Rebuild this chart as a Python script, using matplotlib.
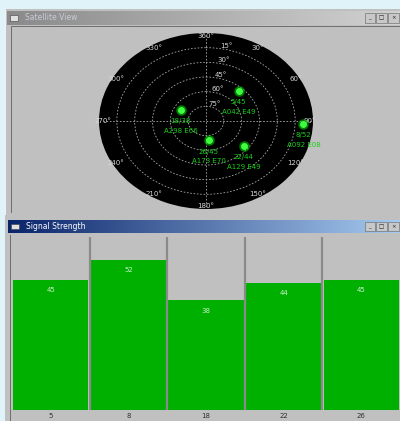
import numpy as np
import matplotlib
matplotlib.use("Agg")
import matplotlib.pyplot as plt
from matplotlib.patches import Rectangle

# signal strength panel
prns = ["5", "8", "18", "22", "26"]
snr = [45, 52, 38, 44, 45]

# satellites in the sky view (azimuth deg, elevation deg)
sat_prn = ["18", "5", "26", "22", "8"]
sat_az = [298, 42, 173, 129, 92]
sat_el = [66, 49, 70, 49, 8]
sat_snr = [38, 45, 45, 44, 52]

az_labels = ["360°", "30°", "60°", "90°", "120°", "150°",
             "180°", "210°", "240°", "270°", "300°", "330°"]
ring_elev = [15, 30, 45, 60, 75]

W, H = 400, 421
fig = plt.figure(figsize=(W / 100, H / 100), dpi=100)
fig.patch.set_facecolor("#dff3f8")


def box(x0, y0, x1, y1):
    # pixel box (top-left origin) -> figure fraction rect
    return [x0 / W, 1 - y1 / H, (x1 - x0) / W, (y1 - y0) / H]


def rect(x0, y0, x1, y1, color, **kw):
    l, b, w, h = box(x0, y0, x1, y1)
    fig.add_artist(Rectangle((l, b), w, h, transform=fig.transFigure,
                             facecolor=color, edgecolor="none", zorder=-5, **kw))


def title_bar(x0, y0, x1, y1, c0, c1, text, tcolor):
    ax = fig.add_axes(box(x0, y0, x1, y1))
    grad = np.linspace(0, 1, 256)[None, :]
    cmap = matplotlib.colors.LinearSegmentedColormap.from_list("t", [c0, c1])
    ax.imshow(grad, aspect="auto", cmap=cmap, extent=[0, 1, 0, 1])
    ax.set_axis_off()
    ax.text(0.045, 0.5, text, color=tcolor, fontsize=5.5, va="center",
            ha="left", transform=ax.transAxes)
    ax.add_patch(Rectangle((0.008, 0.3), 0.02, 0.4, facecolor="#e0e0e0",
                           edgecolor="#404040", lw=0.4, transform=ax.transAxes))
    for i, s in enumerate(["_", "□", "×"]):
        ax.add_patch(Rectangle((0.91 + i * 0.03, 0.15), 0.027, 0.7,
                               facecolor="#c8c8c8", edgecolor="#606060",
                               lw=0.4, transform=ax.transAxes))
        ax.text(0.923 + i * 0.03, 0.5, s, fontsize=4, ha="center",
                va="center", color="#202020", transform=ax.transAxes)


# window frames
rect(5, 9, 400, 215, "#c0c0c0")
rect(5, 9, 6, 421, "#f0f0f0")
rect(5, 215, 400, 421, "#c0c0c0")
rect(11, 26, 12, 213, "#707070")
rect(11, 26, 400, 27, "#707070")
rect(10, 235, 11, 421, "#707070")
title_bar(7, 11, 400, 25, "#8a8a8a", "#d2d2d2", "Satellite View", "#c8ccd8")
title_bar(8, 220, 400, 233, "#0a246a", "#a6caf0", "Signal Strength", "#ffffff")

# ---- sky view ----
pax = fig.add_axes(box(99, 33, 313, 209), projection="polar")
pax.set_aspect("auto")
pax.set_facecolor("black")
pax.set_theta_zero_location("N")
pax.set_theta_direction(-1)
pax.set_ylim(0, 90)
pax.spines["polar"].set_visible(False)
pax.set_thetagrids(np.arange(0, 360, 30), labels=az_labels)
pax.xaxis.grid(False)
pax.tick_params(axis="x", pad=-13, labelsize=5, colors="#d8d8d8")
pax.set_rgrids([90 - e for e in ring_elev],
               labels=[f"{e}°" for e in ring_elev], angle=9)
pax.tick_params(axis="y", labelsize=5, colors="#d8d8d8")
pax.yaxis.grid(True, color="#a8a8a8", ls=(0, (2, 2)), lw=0.6)
for a in [0, 90]:
    th = np.radians([a, a + 180])
    pax.plot(th, [88, 88], color="#a8a8a8", lw=0.6, ls=(0, (2, 2)))

th = np.radians(sat_az)
r = [90 - e for e in sat_el]
pax.scatter(th, r, s=45, color="#00d000", alpha=0.45, zorder=3)
pax.scatter(th, r, s=16, color="#40ff40", zorder=4)
for t, rr, p, s, az, el in zip(th, r, sat_prn, sat_snr, sat_az, sat_el):
    for dy, txt in [(-8, f"{p}/{s}"), (-15, f"A{az:03d} E{el:02d}")]:
        a = pax.annotate(txt, (t, rr), xytext=(0, dy), textcoords="offset points",
                         ha="center", va="center", fontsize=5, color="#18d018",
                         zorder=5)
        a.set_clip_path(pax.patch)

# ---- signal strength bars ----
bax = fig.add_axes(box(12, 237, 400, 410))
bax.set_facecolor("#c0c0c0")
x = np.arange(len(prns))
bax.bar(x, snr, width=0.97, color="#00b000", zorder=2)
for xi, v in zip(x, snr):
    bax.text(xi, v - 3.5, str(v), ha="center", va="center", fontsize=5,
             color="#c8f0c8", zorder=3)
for xi in x[:-1]:
    bax.axvline(xi + 0.5, color="#8a8a8a", lw=1.6, zorder=3)
bax.set_xlim(-0.5, len(prns) - 0.5)
bax.set_ylim(0, 60)
bax.set_yticks([])
bax.set_xticks(x, prns)
bax.tick_params(axis="x", length=0, pad=2, labelsize=5, colors="#303030")
for sp in bax.spines.values():
    sp.set_visible(False)

fig.savefig("out.png", dpi=100, facecolor=fig.get_facecolor())
